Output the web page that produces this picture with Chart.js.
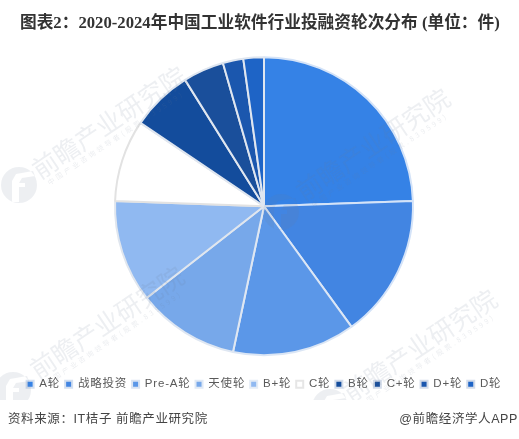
<!DOCTYPE html>
<html>
<head>
<meta charset="utf-8">
<script src="https://cdn.jsdelivr.net/npm/chart.js@4/dist/chart.umd.js"></script>
<style>
  html, body { margin: 0; padding: 0; background: #fff; }
  #wrap { position: relative; width: 519px; height: 439px; overflow: hidden; }
  #chart { position: absolute; left: 0; top: 0; }
  .txt { position: absolute; white-space: nowrap; font-family: "Liberation Sans", "Noto Sans CJK SC", sans-serif; }
  #title { left: 20px; top: 9px; font: bold 16.7px "Liberation Serif", "Noto Sans CJK SC", serif; color: #333; white-space: nowrap; position: absolute; }
  #source { left: 8px; top: 408px; font-size: 12.5px; letter-spacing: 0.6px; color: #444; }
  #brand { right: 1px; top: 408px; font-size: 12.5px; letter-spacing: 0.6px; color: #444; }
</style>
</head>
<body>
<div id="wrap">
  <canvas id="chart" width="519" height="439"></canvas>
  <div id="title">图表2：2020-2024年中国工业软件行业投融资轮次分布 (单位：件)</div>
  <div id="source" class="txt">资料来源：IT桔子 前瞻产业研究院</div>
  <div id="brand" class="txt">@前瞻经济学人APP</div>
</div>
<script>
const categories = ['A轮', '战略投资', 'Pre-A轮', '天使轮', 'B+轮', 'C轮', 'B轮', 'C+轮', 'D+轮', 'D轮'];
const counts = [11, 7, 6, 5, 5, 4, 3, 2, 1, 1];
const sliceColors = ['#3582e6', '#4285e2', '#5b97e8', '#77a8ea', '#90b9f1', '#ffffff', '#134c9c', '#1a4f9b', '#1b57ae', '#1e64c6'];
const edgeColors = ['#d4e3f8', '#d4e3f8', '#dbe6f5', '#dfe7f2', '#e0e6ee', '#e2e2e2', '#dfe6f0', '#dfe6f0', '#dfe6f0', '#dfe6f0'];
const swatchEdges = ['#d3dff0', '#d3dff0', '#d9e4f3', '#e0e9f5', '#e4ecf6', '#e6e6e6', '#d3dcea', '#d3dcea', '#d3dcea', '#d3dcea'];

// [text start x, text start y, logo x, logo y]
const watermarks = [
  [40, 180, 19, 185],
  [304, 202, 281, 212],
  [351, 403, 330, 407],
  [38, 380, 13, 390]
];
// cut-out of the logo, relative to the logo centre
const logoCut = [[-7, 17], [-7, -4], [-3, -11], [14, -14], [16, -9], [3, -7], [0, -2], [6, -2], [6, 2], [0, 2], [0, 17]];

const watermarkPlugin = {
  id: 'watermark',
  afterDraw(chart) {
    const ctx = chart.ctx;
    ctx.save();
    ctx.letterSpacing = '0px';
    ctx.beginPath();
    ctx.rect(0, 0, 519, 400);
    ctx.clip();
    watermarks.forEach(([x, y, lx, ly]) => {
      ctx.fillStyle = 'rgba(110,125,150,0.12)';
      ctx.beginPath();
      ctx.arc(lx, ly, 18, 0, Math.PI * 2);
      logoCut.forEach(([cx, cy], i) => {
        if (i === 0) ctx.moveTo(lx + cx, ly + cy);
        else ctx.lineTo(lx + cx, ly + cy);
      });
      ctx.closePath();
      ctx.fill('evenodd');
      ctx.save();
      ctx.translate(x, y);
      ctx.rotate(-33.8 * Math.PI / 180);
      ctx.textBaseline = 'alphabetic';
      ctx.font = '25.5px "Noto Sans CJK SC"';
      ctx.fillText('前瞻产业研究院', 0, 0);
      ctx.fillStyle = 'rgba(110,125,150,0.14)';
      ctx.font = '7px "Noto Sans CJK SC"';
      ctx.letterSpacing = '2.8px';
      ctx.fillText('中国产业咨询领导者(股票.839599)', 5, 10);
      ctx.restore();
      ctx.letterSpacing = '0px';
    });
    ctx.restore();
  }
};

const spacingPlugin = {
  id: 'legendSpacing',
  beforeLayout(chart) { chart.ctx.letterSpacing = '0.8px'; },
  beforeDraw(chart) { chart.ctx.letterSpacing = '0.8px'; }
};

new Chart(document.getElementById('chart'), {
  type: 'pie',
  data: {
    labels: categories,
    datasets: [{
      data: counts,
      backgroundColor: sliceColors,
      borderColor: edgeColors,
      borderWidth: 2,
      radius: 149
    }]
  },
  options: {
    responsive: false,
    animation: false,
    layout: { padding: { left: 9, top: 39, bottom: 39 } },
    plugins: {
      tooltip: { enabled: false },
      legend: {
        position: 'bottom',
        labels: {
          boxWidth: 7,
          boxHeight: 7,
          padding: 5,
          color: '#595959',
          font: { family: '"Liberation Sans", "Noto Sans CJK SC"', size: 11.5 },
          generateLabels: () => categories.map((name, i) => ({
            text: name,
            fillStyle: sliceColors[i],
            strokeStyle: swatchEdges[i],
            lineWidth: 2,
            fontColor: '#595959',
            index: i
          }))
        }
      }
    }
  },
  plugins: [spacingPlugin, watermarkPlugin]
});
</script>
</body>
</html>
